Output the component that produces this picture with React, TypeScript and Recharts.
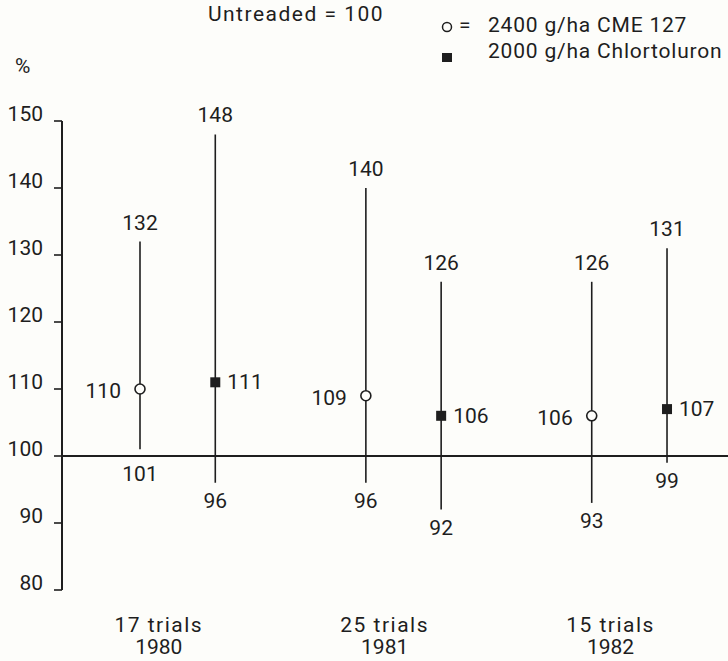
import React from 'react';
import { ComposedChart, Scatter, XAxis, YAxis, ReferenceLine, ErrorBar } from 'recharts';

// ---- data ----
const years = ['1980', '1981', '1982'];
const trials = ['17 trials', '25 trials', '15 trials'];
const seriesNames = ['2400 g/ha CME 127', '2000 g/ha Chlortoluron'];
const cmeMean = [110, 109, 106];
const cmeMax = [132, 140, 126];
const cmeMin = [101, 96, 93];
const chlMean = [111, 106, 107];
const chlMax = [148, 126, 131];
const chlMin = [96, 92, 99];
const yTicks = [80, 90, 100, 110, 120, 130, 140, 150];
const baseline = 100;
const titleText = 'Untreaded = 100';
const unitText = '%';

// ---- derived ----
const slotsPerYear = 3;
const slot = (yearIdx: number, seriesIdx: number) => yearIdx * slotsPerYear + seriesIdx;
const build = (mean: number[], mn: number[], mx: number[], s: number) =>
  mean.map((m, i) => ({ x: slot(i, s), y: m, err: [m - mn[i], mx[i] - m], label: m }));
const cmeData = build(cmeMean, cmeMin, cmeMax, 0);
const chlData = build(chlMean, chlMin, chlMax, 1);
const maxLabels = [
  ...cmeMax.map((v, i) => ({ x: slot(i, 0), y: v, label: v })),
  ...chlMax.map((v, i) => ({ x: slot(i, 1), y: v, label: v })),
];
const minLabels = [
  ...cmeMin.map((v, i) => ({ x: slot(i, 0), y: Math.min(v, baseline), label: v })),
  ...chlMin.map((v, i) => ({ x: slot(i, 1), y: Math.min(v, baseline), label: v })),
];
const yearTicks = years.map((_, i) => i * slotsPerYear + 0.25);

// ---- style ----
const BG = '#fdfdfa';
const INK = '#1e1e1e';
const FONT = 'Roboto, "DejaVu Sans", sans-serif';
const FS = 21;

const CircleShape = (p: any) => (
  <g>
    <circle cx={p.cx} cy={p.cy} r={5} fill={BG} stroke={INK} strokeWidth={1.6} />
    <text x={p.cx - 19} y={p.cy + 9} textAnchor="end" fontSize={FS} fontFamily={FONT} fill={INK}>
      {p.payload.label}
    </text>
  </g>
);
const SquareShape = (p: any) => (
  <g>
    <rect x={p.cx - 5} y={p.cy - 5} width={10} height={10} fill={INK} />
    <text x={p.cx + 12} y={p.cy + 7} textAnchor="start" fontSize={FS} fontFamily={FONT} fill={INK}>
      {p.payload.label}
    </text>
  </g>
);
const MaxLabelShape = (p: any) => (
  <text x={p.cx} y={p.cy - 12} textAnchor="middle" fontSize={FS} fontFamily={FONT} fill={INK}>
    {p.payload.label}
  </text>
);
const MinLabelShape = (p: any) => (
  <text x={p.cx} y={p.cy + 25} textAnchor="middle" fontSize={FS} fontFamily={FONT} fill={INK}>
    {p.payload.label}
  </text>
);

const YTick = (p: any) => (
  <text x={p.x} y={p.y} textAnchor="end" fontSize={FS} fontFamily={FONT} fill={INK}>
    {p.payload.value}
  </text>
);
const XTick = (p: any) => {
  const idx = Math.round((p.payload.value - 0.25) / slotsPerYear);
  return (
    <g>
      <text x={p.x} y={p.y + 42} textAnchor="middle" fontSize={FS} fontFamily={FONT} fill={INK} letterSpacing={1.5}>
        {trials[idx]}
      </text>
      <text x={p.x} y={p.y + 64} textAnchor="middle" fontSize={FS} fontFamily={FONT} fill={INK}>
        {years[idx]}
      </text>
    </g>
  );
};

export default function App() {
  return (
    <div style={{ position: 'absolute', left: 0, top: 0, width: 728, height: 661, background: BG }}>
      <ComposedChart width={728} height={661} margin={{ top: 121, right: 0, bottom: 0, left: 0 }}>
        <XAxis
          type="number"
          dataKey="x"
          domain={[-1.036, 7.81]}
          ticks={yearTicks}
          interval={0}
          axisLine={false}
          tickLine={false}
          tickSize={0}
          tickMargin={0}
          height={71}
          tick={<XTick />}
        />
        <YAxis
          type="number"
          dataKey="y"
          domain={[80, 150]}
          ticks={yTicks}
          interval={0}
          width={62}
          tickSize={8}
          tickMargin={11}
          axisLine={{ stroke: INK, strokeWidth: 2 }}
          tickLine={{ stroke: INK, strokeWidth: 1.6 }}
          tick={<YTick />}
        />
        <ReferenceLine y={baseline} stroke={INK} strokeWidth={2} />
        <Scatter name={seriesNames[0]} data={cmeData} shape={<CircleShape />} isAnimationActive={false}>
          <ErrorBar dataKey="err" direction="y" width={0} stroke={INK} strokeWidth={1.6} />
        </Scatter>
        <Scatter name={seriesNames[1]} data={chlData} shape={<SquareShape />} isAnimationActive={false}>
          <ErrorBar dataKey="err" direction="y" width={0} stroke={INK} strokeWidth={1.6} />
        </Scatter>
        <Scatter name="max" data={maxLabels} shape={<MaxLabelShape />} legendType="none" isAnimationActive={false} />
        <Scatter name="min" data={minLabels} shape={<MinLabelShape />} legendType="none" isAnimationActive={false} />
      </ComposedChart>
      <svg
        width={728}
        height={661}
        style={{ position: 'absolute', left: 0, top: 0, pointerEvents: 'none' }}
        fontFamily={FONT}
        fontSize={FS}
        fill={INK}
      >
        <text x={296} y={21} textAnchor="middle" letterSpacing={1.5}>{titleText}</text>
        <circle cx={447} cy={27} r={4.5} fill="none" stroke={INK} strokeWidth={1.5} />
        <text x={459} y={32}>=</text>
        <text x={488} y={32} letterSpacing={0.8}>{seriesNames[0]}</text>
        <rect x={442} y={53} width={10} height={9} fill={INK} />
        <text x={488} y={58} letterSpacing={0.8}>{seriesNames[1]}</text>
        <text x={15} y={73}>{unitText}</text>
      </svg>
    </div>
  );
}
